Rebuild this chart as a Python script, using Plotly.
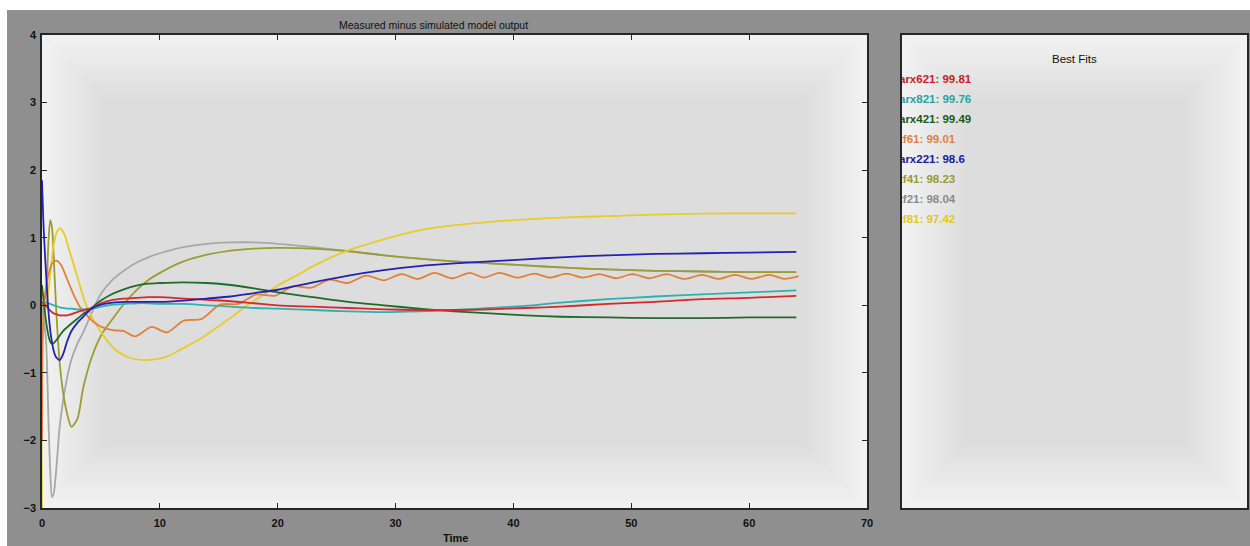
import plotly.graph_objects as go

# ---------------- data ----------------
t_main = [0, 0.15, 0.35, 0.55, 0.7, 0.85, 1.0, 1.2, 1.5, 1.8, 2.1, 2.5, 3.0, 3.5, 4.2,
          5.0, 6.0, 7.0, 8.0, 9.0, 10.0, 12.0, 14.0, 16.0, 18.0, 20.0, 23.0, 26.0, 29.0,
          32.0, 35.0, 38.0, 41.0, 44.0, 48.0, 52.0, 56.0, 60.0, 64.0]

arx621 = [0.05, 0.03, -0.01, -0.05, -0.08, -0.1, -0.12, -0.13, -0.15, -0.15, -0.15, -0.13, -0.1,
          -0.07, -0.04, 0.03, 0.08, 0.1, 0.11, 0.12, 0.12, 0.1, 0.08, 0.06, 0.03, 0.0, -0.02,
          -0.04, -0.06, -0.07, -0.07, -0.06, -0.04, -0.02, 0.02, 0.05, 0.09, 0.11, 0.14]
arx821 = [0.05, 0.05, 0.04, 0.03, 0.02, 0.01, 0.0, -0.01, -0.03, -0.04, -0.05, -0.05, -0.06,
          -0.06, -0.05, -0.02, 0.01, 0.02, 0.03, 0.03, 0.02, 0.02, 0.0, -0.02, -0.04, -0.05,
          -0.07, -0.09, -0.1, -0.09, -0.07, -0.04, -0.01, 0.04, 0.09, 0.13, 0.16, 0.19, 0.22]
arx421 = [0.3, 0.05, -0.25, -0.45, -0.54, -0.57, -0.56, -0.52, -0.45, -0.38, -0.33, -0.27, -0.2,
          -0.13, -0.04, 0.07, 0.17, 0.24, 0.29, 0.32, 0.33, 0.34, 0.33, 0.3, 0.25, 0.19, 0.12,
          0.05, 0.0, -0.05, -0.09, -0.12, -0.15, -0.17, -0.18, -0.19, -0.19, -0.18, -0.18]
arx221 = [1.85, 1.1, 0.45, -0.1, -0.37, -0.55, -0.68, -0.77, -0.81, -0.72, -0.55, -0.38, -0.26,
          -0.17, -0.05, 0.01, 0.04, 0.05, 0.05, 0.05, 0.05, 0.07, 0.1, 0.13, 0.18, 0.23, 0.34,
          0.44, 0.52, 0.58, 0.62, 0.65, 0.68, 0.71, 0.74, 0.76, 0.77, 0.78, 0.79]
tf41 = [0.0, 0.05, 0.2, 0.95, 1.26, 1.15, 0.7, -0.05, -0.85, -1.3, -1.58, -1.8, -1.68, -1.22,
        -0.78, -0.45, -0.2, 0.03, 0.22, 0.37, 0.48, 0.65, 0.75, 0.81, 0.84, 0.85, 0.84, 0.8,
        0.74, 0.69, 0.65, 0.62, 0.59, 0.56, 0.53, 0.51, 0.5, 0.49, 0.49]
tf21 = [0.0, -0.2, -0.55, -1.7, -2.45, -2.84, -2.78, -2.45, -1.8, -1.4, -1.1, -0.8, -0.57,
        -0.4, -0.12, 0.17, 0.38, 0.52, 0.63, 0.71, 0.77, 0.86, 0.91, 0.93, 0.93, 0.91, 0.86,
        0.8, 0.74, 0.69, 0.65, 0.62, 0.59, 0.56, 0.53, 0.51, 0.5, 0.49, 0.49]

t_tf81 = [0, 0.12, 0.4, 0.7, 0.96, 1.25, 1.53, 1.9, 2.3, 2.66, 3.2, 3.8, 4.9, 6.3, 7.5, 8.6,
          9.6, 10.6, 11.7, 13.4, 14.5, 16.2, 17.4, 19.1, 20.2, 21.9, 23.0, 25.8, 28.7, 31.5,
          34.3, 37.1, 40, 43, 46, 50, 54, 58, 62, 64]
tf81 = [-3.3, -0.2, 0.03, 0.45, 0.86, 1.08, 1.14, 1.05, 0.82, 0.62, 0.3, -0.02, -0.37, -0.67,
        -0.78, -0.81, -0.8, -0.76, -0.66, -0.5, -0.37, -0.16, 0.0, 0.19, 0.31, 0.47, 0.58, 0.8,
        0.96, 1.09, 1.17, 1.22, 1.26, 1.29, 1.31, 1.33, 1.35, 1.36, 1.36, 1.36]

t_tf61 = [0, 0.15, 0.5, 0.9, 1.2, 1.6, 2.1, 2.7, 3.2, 3.8, 4.4, 5.2, 6.1, 6.9, 7.9, 9.3, 10.6,
          12.0, 13.55, 15.1, 16.65, 18.2, 19.75, 21.3, 22.85, 24.4, 25.95, 27.5, 29.0, 30.5,
          31.9, 33.3, 34.8, 36.3, 37.5, 38.8, 40.3, 41.8, 43.1, 44.5, 45.9, 47.3, 48.7, 50.1,
          51.5, 53.0, 54.5, 56.0, 57.4, 58.8, 60.2, 61.7, 63.0, 64.2]
tf61 = [-2.0, -0.05, 0.42, 0.63, 0.66, 0.6, 0.4, 0.15, -0.02, -0.15, -0.25, -0.33, -0.37, -0.38,
        -0.46, -0.32, -0.4, -0.23, -0.2, 0.01, 0.02, 0.16, 0.14, 0.28, 0.26, 0.38, 0.33, 0.44,
        0.37, 0.46, 0.39, 0.48, 0.40, 0.48, 0.41, 0.48, 0.41, 0.47, 0.41, 0.47, 0.41, 0.46, 0.40,
        0.46, 0.40, 0.46, 0.39, 0.45, 0.39, 0.45, 0.39, 0.45, 0.39, 0.43]

fit_names = ["arx621", "arx821", "arx421", "tf61", "arx221", "tf41", "tf21", "tf81"]
fit_values = ["99.81", "99.76", "99.49", "99.01", "98.6", "98.23", "98.04", "97.42"]

x_ticks = [0, 10, 20, 30, 40, 50, 60, 70]
y_ticks = [-3, -2, -1, 0, 1, 2, 3, 4]

# ---------------- styling ----------------
line_colors = {
    "arx621": "#d42a2a", "arx821": "#2fb0b0", "arx421": "#1f6b2a", "tf61": "#e0803a",
    "arx221": "#2222b4", "tf41": "#9c9c35", "tf21": "#a8a8a8", "tf81": "#e8cc2a",
}
text_colors = {
    "arx621": "#d02020", "arx821": "#27a3a3", "arx421": "#1a5a1a", "tf61": "#e0803a",
    "arx221": "#1a1aa8", "tf41": "#9a9a30", "tf21": "#8a8a8a", "tf81": "#e0c820",
}

series = [
    ("tf21", t_main, tf21), ("tf41", t_main, tf41), ("tf81", t_tf81, tf81),
    ("tf61", t_tf61, tf61), ("arx421", t_main, arx421), ("arx821", t_main, arx821),
    ("arx621", t_main, arx621), ("arx221", t_main, arx221),
]

W, H = 1250, 546
ML, MR, MT, MB = 42, 3, 35, 38
PW = W - ML - MR
PH = H - MT - MB


def pxx(p):
    return (p - ML) / PW


def pxy(p):
    return (H - MB - p) / PH


FONT = "Liberation Sans, Arial, sans-serif"
AXC = "#262626"

fig = go.Figure()
for name, tt, vv in series:
    fig.add_trace(go.Scatter(
        x=tt, y=vv, mode="lines", name=name,
        line=dict(color=line_colors[name], width=1.8, shape="spline", smoothing=0.8),
        xaxis="x", yaxis="y", hoverinfo="skip", showlegend=False,
    ))

# legend panel texts (clipped on the left by the panel frame)
panel_left, panel_right = 902, 1247
for i, (nm, fv) in enumerate(zip(fit_names, fit_values)):
    fig.add_trace(go.Scatter(
        x=[(899 - panel_left) / (panel_right - panel_left)],
        y=[(H - MB - (80 + 20 * i)) / PH],
        mode="text", text=[f"{nm}: {fv}"], textposition="middle right",
        textfont=dict(family=FONT, size=11.5, color=text_colors[nm], weight="bold"),
        xaxis="x2", yaxis="y2", cliponaxis=True, hoverinfo="skip", showlegend=False,
    ))

main_dom = [0, pxx(867)]
side_dom = [pxx(panel_left), 1]

axis_common = dict(showgrid=False, zeroline=False, showline=True, linecolor=AXC,
                   linewidth=1.5, mirror="ticks", automargin=False)

# white strips at the top and left edges of the picture
shapes = [
    dict(type="rect", xref="paper", yref="paper", x0=pxx(-5), x1=pxx(7),
         y0=pxy(H + 5), y1=pxy(-5), fillcolor="white", line=dict(width=0), layer="below"),
    dict(type="rect", xref="paper", yref="paper", x0=pxx(-5), x1=pxx(W + 5),
         y0=pxy(10), y1=pxy(-5), fillcolor="white", line=dict(width=0), layer="below"),
]
# soft shading of the panel backgrounds (darker toward the centre)
for xr, yr, wpx in (("x domain", "y domain", 825), ("x2 domain", "y2 domain", 345)):
    for k in range(22):
        inset = 3 * k
        fx = inset / wpx
        fy = inset / PH
        shapes.append(dict(type="rect", xref=xr, yref=yr, x0=fx, x1=1 - fx, y0=fy,
                           y1=1 - fy, fillcolor="rgba(0,0,0,0.0042)", line=dict(width=0),
                           layer="below"))

fig.update_layout(
    width=W, height=H, autosize=False,
    margin=dict(l=ML, r=MR, t=MT, b=MB, pad=0, autoexpand=False),
    paper_bgcolor="#8f8f8f", plot_bgcolor="#f3f3f3",
    font=dict(family=FONT, color="#111"),
    showlegend=False,
    xaxis=dict(domain=main_dom, range=[0, 70], tickvals=x_ticks, ticks="inside",
               ticklen=5, tickwidth=1.2, tickcolor=AXC, anchor="y",
               tickfont=dict(size=11, family=FONT, color="#111", weight="bold"),
               ticklabelstandoff=4, **axis_common),
    yaxis=dict(domain=[0, 1], range=[-3, 4], tickvals=y_ticks, ticks="inside",
               ticklen=5, tickwidth=1.2, tickcolor=AXC, anchor="x",
               tickfont=dict(size=11, family=FONT, color="#111", weight="bold"),
               ticklabelstandoff=2, **axis_common),
    xaxis2=dict(domain=side_dom, range=[0, 1], showticklabels=False, ticks="",
                anchor="y2", **axis_common),
    yaxis2=dict(domain=[0, 1], range=[0, 1], showticklabels=False, ticks="",
                anchor="x2", **axis_common),
    shapes=shapes,
    annotations=[
        dict(text="Measured minus simulated model output", xref="paper", yref="paper",
             x=pxx(433), y=pxy(25), showarrow=False, xanchor="center", yanchor="middle",
             font=dict(size=10.5, family=FONT, color="#111")),
        dict(text="Time", xref="paper", yref="paper", x=pxx(455), y=pxy(538),
             showarrow=False, xanchor="center", yanchor="middle",
             font=dict(size=11, family=FONT, color="#111", weight="bold")),
        dict(text="Best Fits", xref="paper", yref="paper", x=pxx(1074), y=pxy(59),
             showarrow=False, xanchor="center", yanchor="middle",
             font=dict(size=11.5, family=FONT, color="#111")),
    ],
)

fig.write_html("out.html", config={"responsive": False})
